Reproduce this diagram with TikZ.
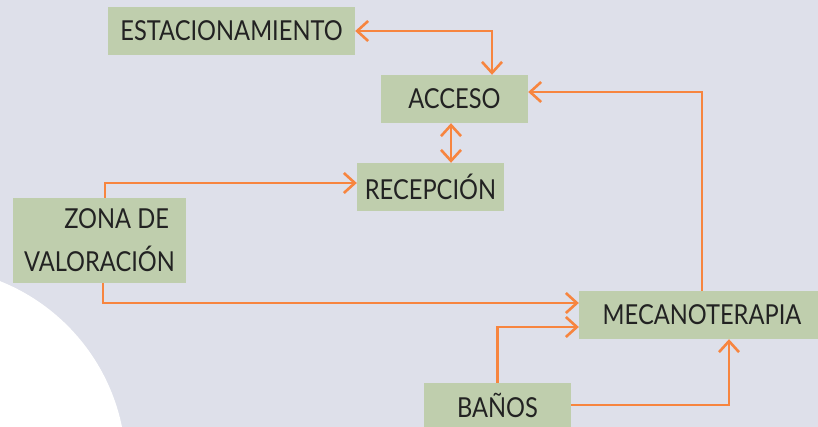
\documentclass[tikz,border=0pt]{standalone}
\usepackage{fontspec}
\setmainfont[FakeStretch=0.86]{Lato}
\usetikzlibrary{arrows.meta}
\definecolor{bgc}{HTML}{DEE0EA}
\definecolor{boxc}{HTML}{BFCEAD}
\definecolor{arrc}{HTML}{F7853F}
\definecolor{txtc}{HTML}{222222}
\tikzset{
  box/.style={fill=boxc, text=txtc, inner sep=0pt, font=\fontsize{27.5}{43}\selectfont},
  conn/.style={draw=arrc, line width=2.6pt, -{Straight Barb[length=11pt,width=20pt,line width=2.6pt]}},
  conn2/.style={draw=arrc, line width=2.6pt, {Straight Barb[length=11pt,width=20pt,line width=2.6pt]}-{Straight Barb[length=11pt,width=20pt,line width=2.6pt]}}
}
\begin{document}
\begin{tikzpicture}[x=1pt,y=-1pt]
\useasboundingbox (0,0) rectangle (818,427);
\clip (0,0) rectangle (818,427);
\fill[bgc] (0,0) rectangle (818,427);
\fill[white] (-74,467) circle[radius=200];
\node[box, minimum width=247pt, minimum height=48pt] (est) at (231.5,31) {ESTACIONAMIENTO};
\node[box, minimum width=147pt, minimum height=48pt] (acc) at (454.5,99) {ACCESO};
\node[box, minimum width=147pt, minimum height=48pt] (rec) at (430.5,187) {RECEPCIÓN};
\node[box, minimum width=173pt, minimum height=85pt, align=right] (zona) at (99.5,240.5) {ZONA DE\hspace*{6pt}\\VALORACIÓN};
\node[box, minimum width=246pt, minimum height=48pt] (meca) at (702,315) {MECANOTERAPIA};
\node[box, minimum width=147pt, minimum height=44pt] (banos) at (497.5,405) {BAÑOS};
\draw[conn2] (est.east) -| ([xshift=37.5pt]acc.north);
\draw[conn2] ([xshift=-3.5pt]acc.south) -- ([xshift=20.5pt]rec.north);
\draw[conn] ([xshift=5.5pt]zona.north) |- ([yshift=4pt]rec.west);
\draw[conn] ([xshift=3.5pt]zona.south) |- ([yshift=12pt]meca.west);
\draw[conn] (banos.north) |- ([yshift=-12pt]meca.west);
\draw[conn] (banos.east) -| ([xshift=27pt]meca.south);
\draw[conn] (meca.north) |- ([yshift=7pt]acc.east);
\end{tikzpicture}
\end{document}
